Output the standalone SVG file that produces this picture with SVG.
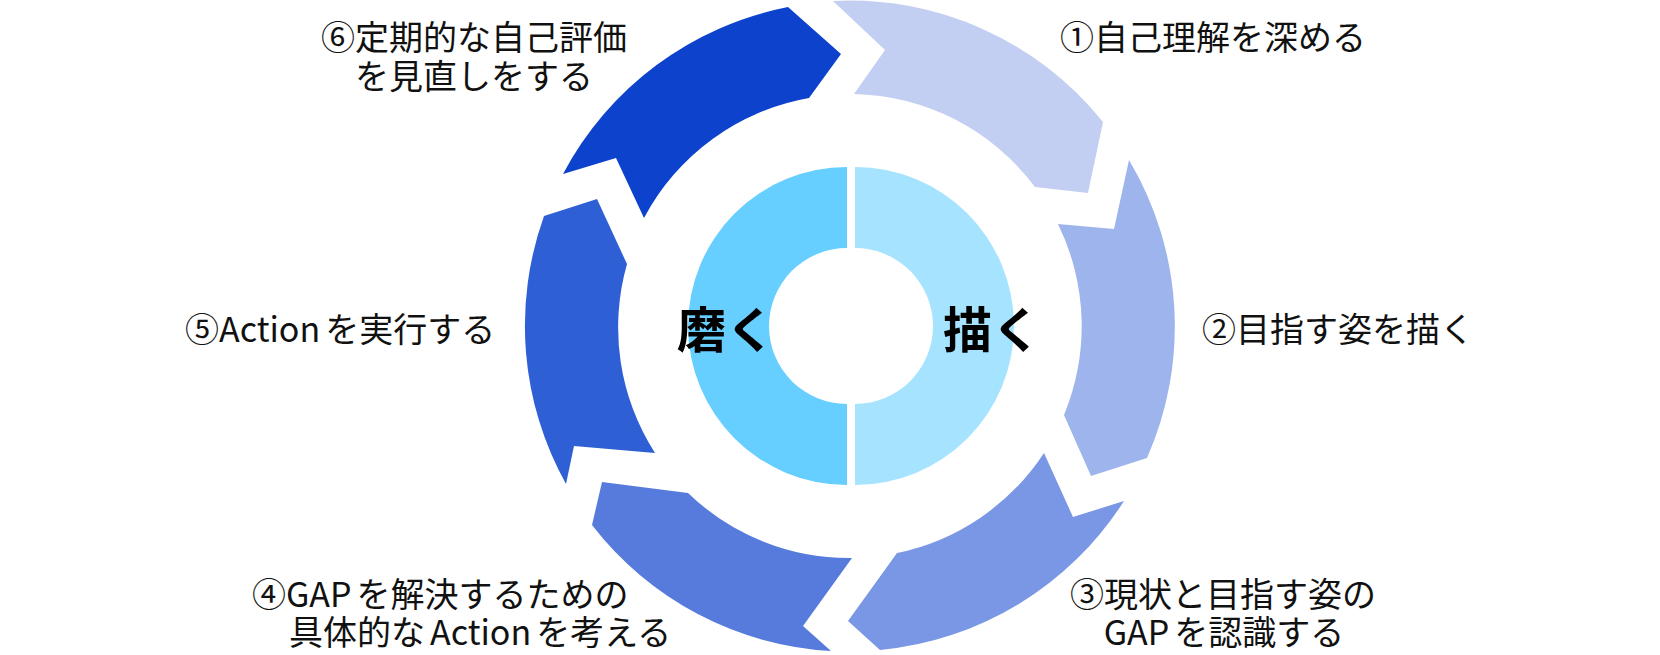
<svg xmlns="http://www.w3.org/2000/svg" width="1660" height="655" viewBox="0 0 1660 655">
  <style>
    .lbl { font-family: "Noto Sans CJK JP", "Noto Sans", sans-serif; font-size: 34px; fill: #111; }
    .mid { text-anchor: middle; }
    .ctr { font-family: "Noto Sans CJK JP", "Noto Sans", sans-serif; font-size: 49px; font-weight: 700; fill: #000; }
    .s1 { fill: #C3CFF2; }
    .s2 { fill: #9EB4EC; }
    .s3 { fill: #7A97E5; }
    .s4 { fill: #567BDC; }
    .s5 { fill: #2F5FD5; }
    .s6 { fill: #0C42CC; }
    .cR { fill: #A6E3FF; }
    .cL { fill: #66CFFF; }
  </style>
  <rect width="1660" height="655" fill="#FFFFFF"/>

  <g id="step1">
    <path class="s1" d="M833,1 A325,325 0 0 1 1103,122 L1088,193 L1035,187 A232,232 0 0 0 854,94 L885,50 Z"/>
    <text class="lbl" x="1060" y="50">①自己理解を深める</text>
  </g>

  <g id="step2">
    <path class="s2" d="M1129,160 A325,325 0 0 1 1147,458 L1091,476 L1064,415 A232,232 0 0 0 1058,224 L1114,229 Z"/>
    <text class="lbl" x="1202" y="342">②目指す姿を描く</text>
  </g>

  <g id="step3">
    <path class="s3" d="M1124,501 A325,325 0 0 1 880,650 L848,621 L897,553 A232,232 0 0 0 1044,453 L1073,517 Z"/>
    <text class="lbl mid" x="1223" y="607">③現状と目指す姿の</text>
    <text class="lbl mid" x="1224" y="645">GAP<tspan dx="5">を認識する</tspan></text>
  </g>

  <g id="step4">
    <path class="s4" d="M831,651 A325,325 0 0 1 592,525 L602,482 L688,493 A232,232 0 0 0 852,558 L803,626 Z"/>
    <text class="lbl" x="252" y="607">④GAP<tspan dx="5">を解決するための</tspan></text>
    <text class="lbl" x="289" y="645">具体的な<tspan dx="5">Action</tspan><tspan dx="5">を考える</tspan></text>
  </g>

  <g id="step5">
    <path class="s5" d="M566,484 A325,325 0 0 1 544,216 L597,199 L627,264 A232,232 0 0 0 655,453 L574,446 Z"/>
    <text class="lbl" x="185" y="342">⑤Action<tspan dx="5">を実行する</tspan></text>
  </g>

  <g id="step6">
    <path class="s6" d="M563,174 A325,325 0 0 1 788,7 L841,54 L809,98 A232,232 0 0 0 644,218 L616,158 Z"/>
    <text class="lbl mid" x="474" y="50">⑥定期的な自己評価</text>
    <text class="lbl mid" x="474" y="89">を見直しをする</text>
  </g>

  <g id="center-polish">
    <path class="cL" d="M847,167 A159,159 0 0 0 847,485 L847,404 A78,78 0 0 1 847,248 Z"/>
    <text class="ctr" x="677" y="348">磨く</text>
  </g>

  <g id="center-draw">
    <path class="cR" d="M855,167 A159,159 0 0 1 855,485 L855,404 A78,78 0 0 0 855,248 Z"/>
    <text class="ctr" x="943" y="348">描く</text>
  </g>

  <g id="connectors"></g>
</svg>
